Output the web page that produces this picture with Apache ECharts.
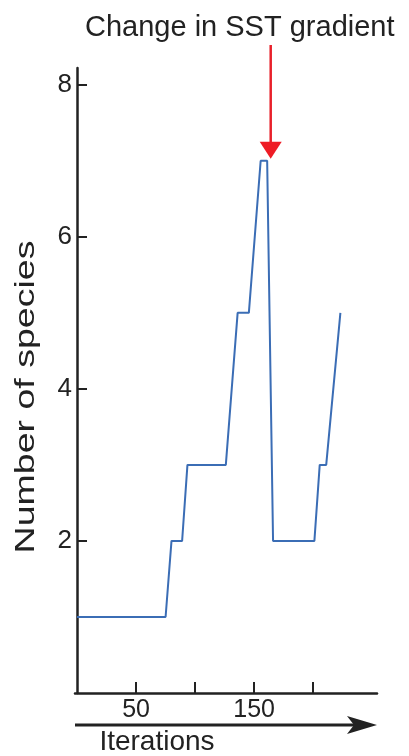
<!DOCTYPE html>
<html>
<head>
<meta charset="utf-8">
<script src="https://cdn.jsdelivr.net/npm/echarts@6/dist/echarts.min.js"></script>
<style>
html, body { margin: 0; padding: 0; background: #fff; }
#chart { width: 409px; height: 756px; }
</style>
</head>
<body>
<div id="chart"></div>
<script>
// values
const iterations = [0, 75, 80, 89, 93.5, 126, 136, 145.5, 155.5, 161, 166, 201, 205.5, 211, 223];
const species = [1, 1, 2, 2, 3, 3, 5, 5, 7, 7, 2, 2, 3, 3, 5];
const xTicks = [50, 100, 150, 200];
const xLabels = [50, 150];
const yTicks = [2, 4, 6, 8];
const arrowAt = [164, 7];

const font = '"Liberation Sans", Arial, sans-serif';
const ink = '#222';
const chart = echarts.init(document.getElementById('chart'));

const gridLeft = 75, gridRight = 32, gridTop = 68, gridBottom = 63;

chart.setOption({
    animation: false,
    backgroundColor: '#fff',
    title: {
        text: 'Change in SST gradient',
        left: 85,
        top: 13,
        padding: 0,
        textStyle: { fontFamily: font, fontSize: 29, fontWeight: 'normal', color: ink }
    },
    grid: { left: gridLeft, right: gridRight, top: gridTop, bottom: gridBottom },
    xAxis: {
        type: 'value',
        min: -1.7,
        max: 254,
        axisLine: { lineStyle: { color: ink, width: 2.5 } },
        axisTick: { inside: true, length: 11, customValues: xTicks, lineStyle: { color: ink, width: 2 } },
        axisLabel: { customValues: xLabels, fontFamily: font, fontSize: 25, color: ink, margin: 5 },
        splitLine: { show: false }
    },
    yAxis: {
        type: 'value',
        min: 0,
        max: 8.22,
        axisLine: { show: true, lineStyle: { color: ink, width: 2.5 } },
        axisTick: { show: true, inside: true, length: 10, customValues: yTicks, lineStyle: { color: ink, width: 2 } },
        axisLabel: { customValues: yTicks, fontFamily: font, fontSize: 26, color: ink, margin: 3 },
        splitLine: { show: false }
    },
    series: [{
        type: 'line',
        data: iterations.map((x, i) => [x, species[i]]),
        symbol: 'none',
        clip: false,
        lineStyle: { color: '#3b6db5', width: 2 }
    }]
});

// annotations placed from the axes
const tip = chart.convertToPixel({ seriesIndex: 0 }, arrowAt);
const tipY = tip[1] - 2;
const xEnd = 409 - gridRight;
const arrowY = 725;

chart.setOption({
    graphic: [
        {
            type: 'line',
            shape: { x1: tip[0], y1: 45, x2: tip[0], y2: tipY - 15 },
            style: { stroke: '#e8202a', lineWidth: 2.5 }
        },
        {
            type: 'polygon',
            shape: { points: [[tip[0] - 11, tipY - 17], [tip[0] + 11, tipY - 17], [tip[0], tipY]] },
            style: { fill: '#ee1c25' }
        },
        {
            type: 'line',
            shape: { x1: gridLeft, y1: arrowY, x2: xEnd - 22, y2: arrowY },
            style: { stroke: ink, lineWidth: 3 }
        },
        {
            type: 'polygon',
            shape: { points: [[xEnd, arrowY], [xEnd - 30, arrowY - 9], [xEnd - 23, arrowY], [xEnd - 30, arrowY + 9]] },
            style: { fill: ink }
        },
        {
            type: 'text',
            x: 157,
            y: 742,
            style: { text: 'Iterations', fontFamily: font, fontSize: 28, fill: ink, textAlign: 'center', textVerticalAlign: 'middle' }
        },
        {
            type: 'text',
            x: 26,
            y: 397,
            rotation: Math.PI / 2,
            scaleX: 1.34,
            style: { text: 'Number of species', fontFamily: font, fontSize: 28, fill: ink, textAlign: 'center', textVerticalAlign: 'middle' }
        }
    ]
});
</script>
</body>
</html>
